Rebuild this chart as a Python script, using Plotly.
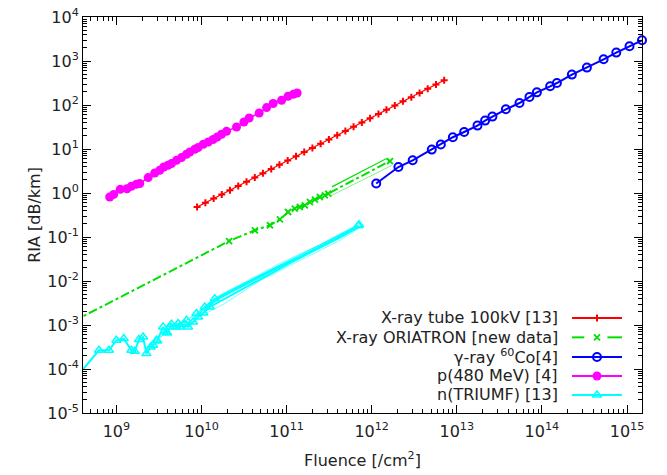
import math
import plotly.graph_objects as go

# ---------------- data ----------------
# X-ray tube 100kV [13]
xtube_F = [8.87e9, 1.11e10, 1.39e10, 1.73e10, 2.16e10, 2.70e10, 3.38e10, 4.23e10, 5.27e10,
           6.59e10, 8.24e10, 1.03e11, 1.29e11, 1.61e11, 2.01e11, 2.51e11, 3.14e11, 3.93e11,
           4.90e11, 6.12e11, 7.66e11, 9.57e11, 1.20e12, 1.49e12, 1.87e12, 2.33e12, 2.92e12,
           3.65e12, 4.55e12, 5.69e12, 7.10e12]
xtube_R = [0.48, 0.60, 0.75, 0.93, 1.16, 1.45, 1.81, 2.26, 2.82, 3.52, 4.39, 5.47, 6.82, 8.51,
           10.6, 13.2, 16.5, 20.6, 25.7, 32.1, 40.0, 49.9, 62.2, 77.6, 96.8, 121, 151, 188,
           234, 292, 364]

# X-ray ORIATRON [new data]
oria_F = [2.0e8, 2.11e10, 4.24e10, 6.37e10, 8.34e10, 1.04e11, 1.25e11, 1.43e11, 1.64e11,
          1.88e11, 2.15e11, 2.46e11, 2.82e11, 3.08e11, 1.64e12]
oria_R = [7.8e-4, 0.081, 0.142, 0.185, 0.252, 0.370, 0.442, 0.481, 0.525, 0.624, 0.708,
          0.811, 0.887, 0.969, 5.33]
oria_back_F = [1.64e12, 1.47e12, 3.41e11]
oria_back_R = [5.33, 5.98, 1.38]
oria_faint_F = [3.23e11, 1.73e12]
oria_faint_R = [0.841, 4.27]

# gamma-ray 60Co [4]
gamma_F = [1.13e12, 2.06e12, 3.03e12, 5.08e12, 6.49e12, 8.98e12, 1.22e13, 1.75e13, 2.15e13,
           2.62e13, 3.77e13, 5.45e13, 7.14e13, 8.73e13, 1.25e14, 1.50e14, 2.25e14, 3.38e14,
           5.31e14, 7.48e14, 1.07e15, 1.50e15]
gamma_R = [1.64, 3.90, 5.53, 9.68, 12.6, 18.5, 24.3, 34.0, 44.2, 54.5, 79.8, 111, 152, 194,
           266, 316, 491, 708, 1094, 1552, 2158, 2951]

# p(480 MeV) [4]
prot_F = [8.34e8, 9.29e8, 1.11e9, 1.33e9, 1.50e9, 1.72e9, 1.88e9, 2.36e9, 2.82e9, 3.23e9,
          3.60e9, 4.04e9, 4.44e9, 5.08e9, 5.82e9, 6.67e9, 7.29e9, 8.34e9, 9.12e9, 1.05e10,
          1.20e10, 1.37e10, 1.53e10, 1.72e10, 1.97e10, 2.58e10, 3.15e10, 3.63e10, 4.76e10,
          5.82e10, 6.95e10, 8.73e10, 1.04e11, 1.20e11, 1.33e11]
prot_R = [0.81, 0.93, 1.21, 1.25, 1.42, 1.58, 1.64, 2.24, 2.85, 3.28, 3.90, 4.27, 4.66, 5.53,
          6.38, 7.59, 8.55, 9.85, 10.8, 12.8, 14.4, 16.4, 18.7, 21.6, 25.2, 31.6, 41.1, 50.7,
          65.8, 87.3, 108, 128, 158, 175, 187]

# n(TRIUMF) [13]
neut_F = [4.05e8, 6.24e8, 8.18e8, 1.00e9, 1.22e9, 1.50e9, 1.64e9, 1.84e9, 2.06e9, 2.25e9,
          2.53e9, 2.70e9, 3.01e9, 3.54e9, 3.94e9, 4.44e9, 4.98e9, 5.56e9, 6.37e9, 6.95e9,
          7.96e9, 9.12e9, 1.05e10, 1.25e10, 6.95e11]
neut_R = [9.8e-5, 2.66e-4, 2.66e-4, 4.49e-4, 4.91e-4, 2.66e-4, 2.52e-4, 4.66e-4, 5.33e-4,
          2.24e-4, 3.16e-4, 3.46e-4, 4.33e-4, 9.0e-4, 6.58e-4, 1.04e-3, 9.0e-4, 9.0e-4,
          1.04e-3, 9.0e-4, 1.17e-3, 1.52e-3, 1.87e-3, 2.57e-3, 0.180]
neut2_F = [2.96e9, 3.87e9, 4.24e9, 5.31e9, 6.67e9, 8.73e9, 1.09e10, 1.43e10, 7.10e11]
neut2_R = [4.49e-4, 6.93e-4, 9.0e-4, 1.08e-3, 1.28e-3, 1.82e-3, 2.57e-3, 3.98e-3, 0.190]
neut_b1_F = [1.09e10, 1.50e10, 2.46e10, 4.85e10, 8.34e10, 1.43e11, 2.46e11, 4.24e11, 6.95e11]
neut_b1_R = [2.40e-3, 3.84e-3, 6.47e-3, 1.28e-2, 2.16e-2, 3.46e-2, 5.83e-2, 0.101, 0.171]
neut_b2_F = [9.04e9, 1.43e10, 2.82e10, 8.34e10, 2.46e11, 6.60e11]
neut_b2_R = [1.95e-3, 4.20e-3, 8.20e-3, 2.50e-2, 6.70e-2, 0.185]
neut_b3_F = [9.55e9, 1.88e10, 4.85e10, 1.43e11, 4.24e11, 7.10e11]
neut_b3_R = [1.55e-3, 3.10e-3, 1.02e-2, 2.95e-2, 8.40e-2, 0.160]

legend_labels = ["X-ray tube 100kV [13]", "X-ray ORIATRON [new data]",
                 "γ-ray <sup>60</sup>Co[4]", "p(480 MeV) [4]", "n(TRIUMF) [13]"]

x_tick_exp = [9, 10, 11, 12, 13, 14, 15]
y_tick_exp = [-5, -4, -3, -2, -1, 0, 1, 2, 3, 4]

# ---------------- styling ----------------
FONT = "DejaVu Sans"
TXT = "#222222"
RED, GREEN, BLUE, MAG, CYAN = "#ff0000", "#00e000", "#0000ff", "#ff00ff", "#00ffff"

red_marker = dict(symbol="cross-thin-open", size=5, color=RED, line=dict(color=RED, width=2))
green_marker = dict(symbol="x-thin-open", size=6, color=GREEN, line=dict(color=GREEN, width=1.8))
blue_marker = dict(symbol="circle-open", size=8, color=BLUE, line=dict(color=BLUE, width=2))
mag_marker = dict(symbol="circle", size=9, color=MAG)
cyan_marker = dict(symbol="triangle-up-open", size=8, color=CYAN, line=dict(color=CYAN, width=1.5))

fig = go.Figure()

fig.add_trace(go.Scatter(x=xtube_F, y=xtube_R, mode="lines+markers",
                         line=dict(color=RED, width=1.2), marker=red_marker))
fig.add_trace(go.Scatter(x=oria_faint_F, y=oria_faint_R, mode="lines",
                         line=dict(color=GREEN, width=1), opacity=0.45))
fig.add_trace(go.Scatter(x=oria_back_F, y=oria_back_R, mode="lines",
                         line=dict(color=GREEN, width=1.2)))
fig.add_trace(go.Scatter(x=oria_F, y=oria_R, mode="lines+markers",
                         line=dict(color=GREEN, width=2, dash="dashdot"), marker=green_marker))
fig.add_trace(go.Scatter(x=gamma_F, y=gamma_R, mode="lines+markers", cliponaxis=False,
                         line=dict(color=BLUE, width=2), marker=blue_marker))
fig.add_trace(go.Scatter(x=prot_F, y=prot_R, mode="lines+markers",
                         line=dict(color=MAG, width=1.5), marker=mag_marker))
for bf, br, w, op in [(neut_b2_F, neut_b2_R, 1, 0.55), (neut_b3_F, neut_b3_R, 1, 0.55),
                      (neut_b1_F, neut_b1_R, 3, 1.0)]:
    fig.add_trace(go.Scatter(x=bf, y=br, mode="lines", line=dict(color=CYAN, width=w), opacity=op))
fig.add_trace(go.Scatter(x=neut2_F, y=neut2_R, mode="lines+markers",
                         line=dict(color=CYAN, width=1), marker=cyan_marker))
fig.add_trace(go.Scatter(x=neut_F, y=neut_R, mode="lines+markers", cliponaxis=False,
                         line=dict(color=CYAN, width=2), marker=cyan_marker))

# ---------------- custom legend (text left, sample right) ----------------
row_y = [0.240, 0.191, 0.1415, 0.0935, 0.0455]
text_x, s0, s1, smid = 0.8533, 0.8748, 0.9642, 0.9195
styles = [(RED, "solid", red_marker), (GREEN, "dash", green_marker),
          (BLUE, "solid", dict(blue_marker, symbol="circle", color="white")),
          (MAG, "solid", mag_marker), (CYAN, "solid", dict(cyan_marker, symbol="triangle-up", color="white"))]
annotations = []
shapes = []
for lab, yy, (col, kind, mk) in zip(legend_labels, row_y, styles):
    annotations.append(dict(text=lab, xref="paper", yref="paper", x=text_x, y=yy,
                            xanchor="right", yanchor="middle", showarrow=False,
                            font=dict(family=FONT, size=16, color=TXT)))
    if kind == "solid":
        shapes.append(dict(type="line", xref="paper", yref="paper", x0=s0, x1=s1, y0=yy, y1=yy,
                           line=dict(color=col, width=2)))
    else:
        shapes.append(dict(type="line", xref="paper", yref="paper", x0=s0, x1=s0 + 0.022, y0=yy, y1=yy,
                           line=dict(color=col, width=2)))
        shapes.append(dict(type="line", xref="paper", yref="paper", x0=s1 - 0.026, x1=s1, y0=yy, y1=yy,
                           line=dict(color=col, width=2)))
    fig.add_trace(go.Scatter(x=[smid], y=[yy], xaxis="x2", yaxis="y2", mode="markers",
                             marker=mk, cliponaxis=False, hoverinfo="skip"))

minor_x = [m * 10.0 ** e for e in range(8, 16) for m in range(2, 10)]
minor_y = [m * 10.0 ** e for e in range(-5, 4) for m in range(2, 10)]

axis_common = dict(type="log", showgrid=False, zeroline=False, showline=True, linecolor="black",
                   linewidth=1, mirror="ticks", ticks="inside", ticklen=8, tickwidth=1,
                   tickcolor="black", tickmode="array", automargin=False,
                   tickfont=dict(family=FONT, size=16, color=TXT))

fig.update_layout(
    width=667, height=475,
    margin=dict(l=83, r=25, t=17, b=62),
    paper_bgcolor="white", plot_bgcolor="white",
    showlegend=False,
    font=dict(family=FONT, size=16, color=TXT),
    xaxis=dict(axis_common,
               range=[math.log10(4.05e8), math.log10(1.5e15)],
               tickvals=[10.0 ** e for e in x_tick_exp],
               ticktext=["10<sup>%d</sup>" % e for e in x_tick_exp],
               ticklabelstandoff=4,
               minor=dict(tickmode="array", tickvals=minor_x, ticks="inside", ticklen=4,
                          tickcolor="black", showgrid=False),
               title=dict(text="Fluence [/cm<sup>2</sup>]", standoff=14,
                          font=dict(family=FONT, size=16, color=TXT))),
    yaxis=dict(axis_common,
               range=[-5, 4],
               tickvals=[10.0 ** e for e in y_tick_exp],
               ticktext=["10<sup>%d</sup>" % e for e in y_tick_exp],
               minor=dict(tickmode="array", tickvals=minor_y, ticks="inside", ticklen=4,
                          tickcolor="black", showgrid=False),
               title=dict(text="RIA [dB/km]", standoff=2,
                          font=dict(family=FONT, size=16, color=TXT))),
    xaxis2=dict(overlaying="x", anchor="y2", range=[0, 1], visible=False),
    yaxis2=dict(overlaying="y", anchor="x2", range=[0, 1], visible=False),
    annotations=annotations,
    shapes=shapes,
)

fig.write_html("out.html")
